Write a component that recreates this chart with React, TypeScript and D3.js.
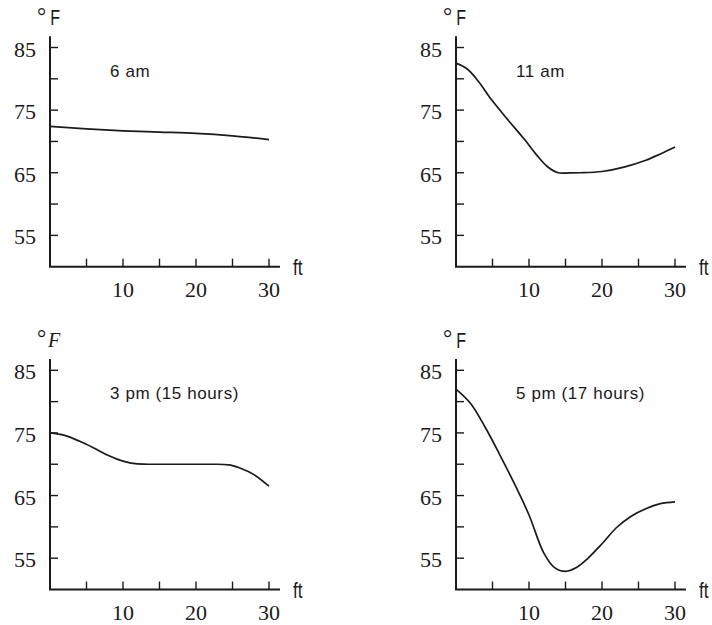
import React from "react";
import * as d3 from "d3";

const panelTitles = ["6 am", "11 am", "3 pm (15 hours)", "5 pm (17 hours)"];
const unitLabels = ["F", "F", "F", "F"];
const xTickLabels = [10, 20, 30];
const xMinorTicks = [5, 10, 15, 20, 25, 30];
const yTickLabels = [55, 65, 75, 85];
const yMinorTicks = [55, 60, 65, 70, 75, 80, 85];

const sixAmDepth = [0, 5, 10, 15, 20, 25, 30];
const sixAmTemp = [72.4, 72.0, 71.7, 71.5, 71.3, 70.9, 70.3];

const elevenAmDepth = [0, 1.5, 3, 4.9, 7, 9.4, 11, 12.5, 14, 15.5, 17, 20, 23, 26, 28, 30];
const elevenAmTemp = [82.5, 81.6, 79.7, 76.6, 73.6, 70.3, 67.9, 66.0, 65.0, 64.98, 65.0, 65.2, 65.9, 67.0, 68.0, 69.1];

const threePmDepth = [0, 2, 4, 6, 8, 10, 12, 13.5, 23, 24.5, 26, 28, 30];
const threePmTemp = [75.0, 74.6, 73.7, 72.6, 71.4, 70.5, 70.05, 70.0, 70.0, 69.9, 69.4, 68.3, 66.5];

const fivePmDepth = [0, 2, 4, 6, 8, 10, 12, 13.5, 15, 16.5, 18, 20, 22, 24, 26, 28, 30];
const fivePmTemp = [82.0, 79.7, 75.9, 71.5, 66.9, 61.9, 55.9, 53.5, 52.9, 53.5, 54.9, 57.3, 59.9, 61.7, 62.9, 63.7, 64.0];

const seriesDepths = [sixAmDepth, elevenAmDepth, threePmDepth, fivePmDepth];
const seriesTemps = [sixAmTemp, elevenAmTemp, threePmTemp, fivePmTemp];

const INK = "#1c1a1b";
const SERIF = "'Liberation Serif', 'DejaVu Serif', serif";
const SANS = "'Liberation Sans', Arial, sans-serif";

const origins = [
  { x: 50, y: 266.7 },
  { x: 456, y: 266.7 },
  { x: 50, y: 589.5 },
  { x: 456, y: 589.5 },
];

function Panel({ idx }: { idx: number }) {
  const o = origins[idx];
  const x = d3.scaleLinear().domain([0, 30]).range([o.x, o.x + 219]);
  const y = d3.scaleLinear().domain([50, 85]).range([o.y, o.y - 219.2]);
  const pts = seriesDepths[idx].map((d, i) => [d, seriesTemps[idx][i]] as [number, number]);
  const smooth = idx === 1 || idx === 3;
  const line = d3
    .line<[number, number]>()
    .x((d) => x(d[0]))
    .y((d) => y(d[1]))
    .curve(smooth ? d3.curveCatmullRom.alpha(0.5) : d3.curveMonotoneX);
  const italicUnit = idx === 2;
  const ftX = x(0) + 243;
  const ftY = y(50) + 8.3;
  const fX = x(0) + 0.3;
  const fY = y(85) - 22.5;
  return (
    <g>
      <line x1={x(0)} y1={y(50)} x2={x(0)} y2={y(86.8)} stroke={INK} strokeWidth={2} />
      <line x1={x(0) - 1} y1={y(50)} x2={x(31.5)} y2={y(50)} stroke={INK} strokeWidth={2} />
      {yMinorTicks.map((t) => (
        <line key={"yt" + t} x1={x(0)} x2={x(0) + 8} y1={y(t)} y2={y(t)} stroke={INK} strokeWidth={1.4} />
      ))}
      {xMinorTicks.map((t) => (
        <line key={"xt" + t} x1={x(t)} x2={x(t)} y1={y(50)} y2={y(50) - 8} stroke={INK} strokeWidth={1.4} />
      ))}
      {yTickLabels.map((t) => (
        <text key={"yl" + t} x={x(0) - 14} y={y(t) + 9} textAnchor="end" fontFamily={SERIF} fontSize={22} fill={INK}>
          {t}
        </text>
      ))}
      {xTickLabels.map((t) => (
        <text key={"xl" + t} x={x(t)} y={y(50) + 30} textAnchor="middle" fontFamily={SERIF} fontSize={22} fill={INK}>
          {t}
        </text>
      ))}
      <text transform={`translate(${ftX},${ftY}) scale(0.8,1)`} fontFamily={SANS} fontSize={21.5} fill={INK}>
        ft
      </text>
      <text x={x(0) - 13} y={y(85) - 24} fontFamily={SERIF} fontSize={23} fill={INK}>
        °
      </text>
      {italicUnit ? (
        <text x={x(0) - 2} y={y(85) - 23.6} fontFamily={SERIF} fontStyle="italic" fontSize={20} fill={INK}>
          {unitLabels[idx]}
        </text>
      ) : (
        <text transform={`translate(${fX},${fY}) scale(0.75,1)`} fontFamily={SANS} fontSize={21.5} fill={INK}>
          {unitLabels[idx]}
        </text>
      )}
      <text x={x(0) + 60} y={y(85) + 29} fontFamily={SANS} fontSize={17} letterSpacing={0.6} fill={INK}>
        {panelTitles[idx]}
      </text>
      <path d={line(pts) || ""} fill="none" stroke={INK} strokeWidth={1.7} />
    </g>
  );
}

export default function App() {
  return (
    <svg
      width={712}
      height={625}
      style={{ position: "absolute", left: 0, top: 0, background: "#fff" }}
    >
      <rect x={0} y={0} width={712} height={625} fill="#fff" />
      {[0, 1, 2, 3].map((i) => (
        <Panel key={i} idx={i} />
      ))}
    </svg>
  );
}
